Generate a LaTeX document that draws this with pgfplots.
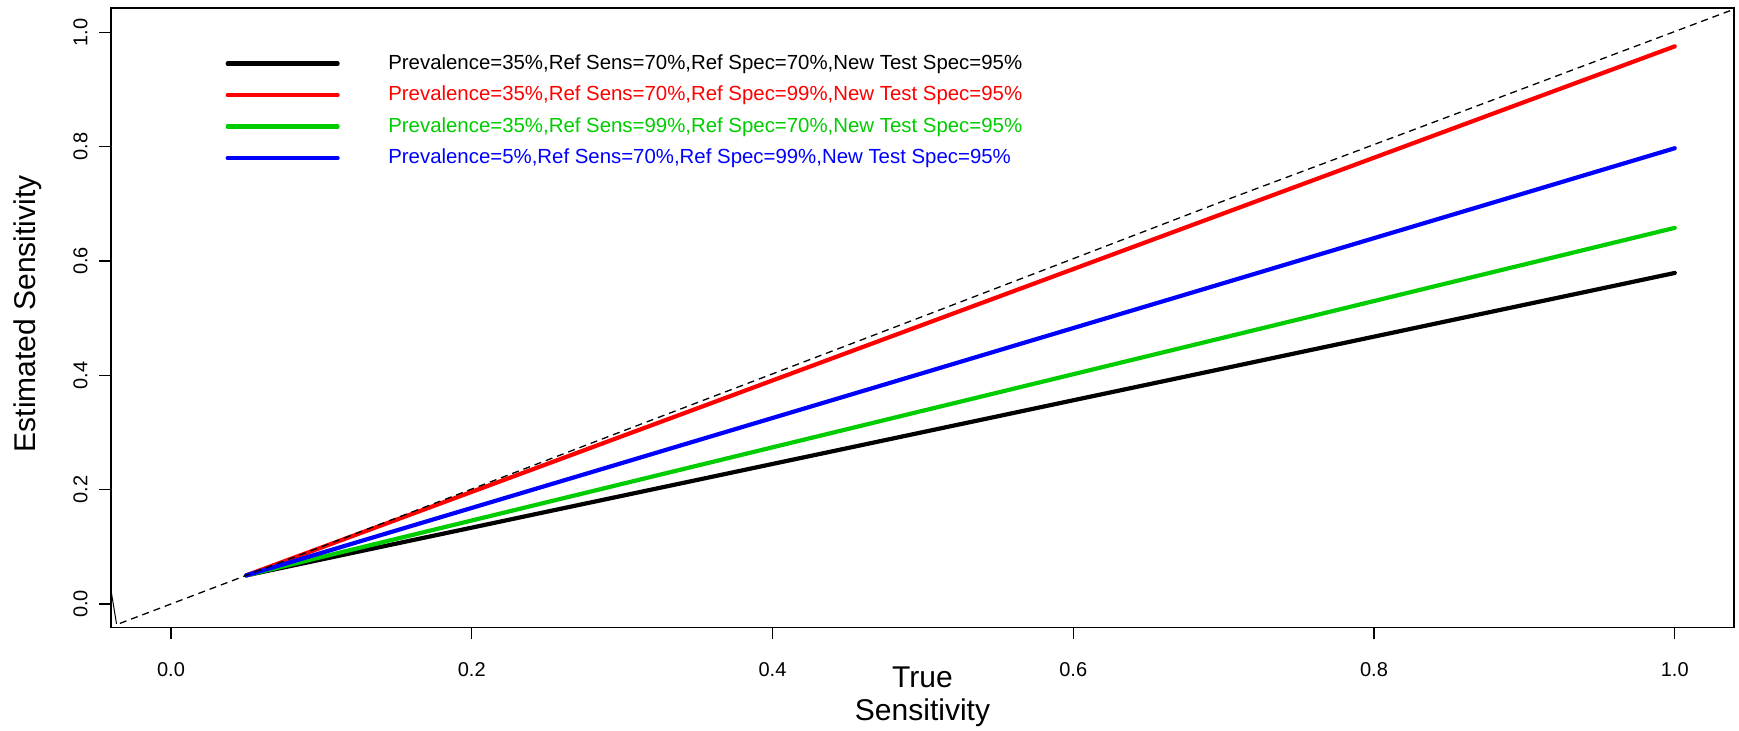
\documentclass[border=0pt]{standalone}
\usepackage{fontspec}
\setmainfont{Liberation Sans}
\usepackage{pgfplots}
\pgfplotsset{compat=1.18}
\definecolor{rgreen}{RGB}{0,205,0}
\definecolor{rred}{RGB}{255,0,0}
\definecolor{rblue}{RGB}{0,0,255}
\begin{document}
\begin{tikzpicture}
\useasboundingbox (0pt,0pt) rectangle (869.5pt,365.5pt);
\begin{axis}[
  at={(55.5pt,51.65pt)}, anchor=south west,
  scale only axis, width=811.5pt, height=309.85pt,
  xmin=-0.0399, xmax=1.0394, ymin=-0.0415, ymax=1.0425,
  axis line style={line width=0.8pt},
  tick pos=left, tick align=outside,
  major tick length=5.8pt,
  every tick/.style={black, line width=0.6pt},
  xtick={0,0.2,0.4,0.6,0.8,1.0},
  ytick={0,0.2,0.4,0.6,0.8,1.0},
  /pgf/number format/assume math mode=true,
  xticklabel={\pgfmathprintnumber[fixed,fixed zerofill,precision=1]{\tick}},
  yticklabel={\pgfmathprintnumber[fixed,fixed zerofill,precision=1]{\tick}},
  ticklabel style={font=\fontsize{10}{12}\selectfont, inner sep=0pt},
  xticklabel style={anchor=north},
  xticklabel shift=11.2pt,
  yticklabel style={rotate=90, anchor=south},
  yticklabel shift=5.7pt,
  xlabel={True\\Sensitivity},
  xlabel style={at={(axis description cs:0.5,-0.0629)}, anchor=north, align=center, inner sep=0pt, font=\fontsize{15}{16.5}\selectfont},
  ylabel={Estimated Sensitivity},
  ylabel style={at={(axis description cs:-0.0602,0.5065)}, rotate=0, anchor=north, inner sep=0pt, font=\fontsize{15}{18}\selectfont},
  legend image code/.code={\draw[#1, line cap=round] (0pt,0pt) -- (55pt,0pt);},
  legend cell align=left,
  legend style={at={(axis cs:0.036,0.963)}, anchor=north west, draw=none, fill=none,
    inner sep=0pt, row sep=6pt,
    font=\fontsize{10.2}{12}\selectfont,
    nodes={inner sep=0pt, text height=7.6pt, text depth=2.15pt},
    /tikz/every odd column/.append style={column sep=24.3pt}},
  legend columns=1,
]
\addplot[black, line width=2.1pt, line cap=round] coordinates {
(0.05,0.0500) (0.10,0.0778) (0.15,0.1057) (0.20,0.1335) (0.25,0.1614)
(0.30,0.1892) (0.35,0.2170) (0.40,0.2449) (0.45,0.2727) (0.50,0.3006)
(0.55,0.3284) (0.60,0.3563) (0.65,0.3841) (0.70,0.4119) (0.75,0.4398)
(0.80,0.4676) (0.85,0.4955) (0.90,0.5233) (0.95,0.5511) (1.00,0.5790)};
\addlegendentry[text=black]{Prevalence=35\%,Ref Sens=70\%,Ref Spec=70\%,New Test Spec=95\%}
\addplot[rred, line width=2.1pt, line cap=round] coordinates {
(0.05,0.0500) (0.10,0.0987) (0.15,0.1474) (0.20,0.1961) (0.25,0.2448)
(0.30,0.2935) (0.35,0.3422) (0.40,0.3910) (0.45,0.4397) (0.50,0.4884)
(0.55,0.5371) (0.60,0.5858) (0.65,0.6345) (0.70,0.6832) (0.75,0.7319)
(0.80,0.7806) (0.85,0.8293) (0.90,0.8780) (0.95,0.9267) (1.00,0.9754)};
\addlegendentry[text=rred]{Prevalence=35\%,Ref Sens=70\%,Ref Spec=99\%,New Test Spec=95\%}
\addplot[rgreen, line width=2.1pt, line cap=round] coordinates {
(0.05,0.0500) (0.10,0.0820) (0.15,0.1140) (0.20,0.1460) (0.25,0.1780)
(0.30,0.2100) (0.35,0.2420) (0.40,0.2740) (0.45,0.3060) (0.50,0.3380)
(0.55,0.3699) (0.60,0.4019) (0.65,0.4339) (0.70,0.4659) (0.75,0.4979)
(0.80,0.5299) (0.85,0.5619) (0.90,0.5939) (0.95,0.6259) (1.00,0.6579)};
\addlegendentry[text=rgreen]{Prevalence=35\%,Ref Sens=99\%,Ref Spec=70\%,New Test Spec=95\%}
\addplot[rblue, line width=2.1pt, line cap=round] coordinates {
(0.05,0.0500) (0.10,0.0893) (0.15,0.1287) (0.20,0.1680) (0.25,0.2073)
(0.30,0.2466) (0.35,0.2860) (0.40,0.3253) (0.45,0.3646) (0.50,0.4039)
(0.55,0.4433) (0.60,0.4826) (0.65,0.5219) (0.70,0.5612) (0.75,0.6006)
(0.80,0.6399) (0.85,0.6792) (0.90,0.7185) (0.95,0.7579) (1.00,0.7972)};
\addlegendentry[text=rblue]{Prevalence=5\%,Ref Sens=70\%,Ref Spec=99\%,New Test Spec=95\%}
\addplot[black, line width=0.65pt, dash pattern=on 3.5pt off 2.5pt, forget plot] coordinates {
(-0.0340,-0.0340) (0.10,0.100) (0.30,0.302) (0.50,0.503) (0.70,0.705) (0.84,0.843) (1.0368,1.0378)};
\addplot[black, line width=0.5pt, forget plot] coordinates {(-0.0399,0.024) (-0.0362,-0.0350)};
\end{axis}
\end{tikzpicture}
\end{document}
